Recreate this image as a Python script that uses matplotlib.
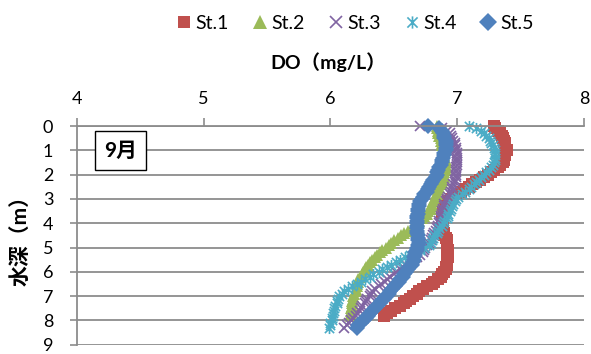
import matplotlib
matplotlib.use("Agg")
import matplotlib.pyplot as plt
from matplotlib.path import Path

plt.rcParams['font.family'] = ['Lato', 'Noto Sans CJK JP', 'DejaVu Sans']

# 水深 (m)  0.1 m ごと
depth = [0.0, 0.1, 0.2, 0.3, 0.4, 0.5, 0.6, 0.7, 0.8, 0.9,
         1.0, 1.1, 1.2, 1.3, 1.4, 1.5, 1.6, 1.7, 1.8, 1.9,
         2.0, 2.1, 2.2, 2.3, 2.4, 2.5, 2.6, 2.7, 2.8, 2.9,
         3.0, 3.1, 3.2, 3.3, 3.4, 3.5, 3.6, 3.7, 3.8, 3.9,
         4.0, 4.1, 4.2, 4.3, 4.4, 4.5, 4.6, 4.7, 4.8, 4.9,
         5.0, 5.1, 5.2, 5.3, 5.4, 5.5, 5.6, 5.7, 5.8, 5.9,
         6.0, 6.1, 6.2, 6.3, 6.4, 6.5, 6.6, 6.7, 6.8, 6.9,
         7.0, 7.1, 7.2, 7.3, 7.4, 7.5, 7.6, 7.7, 7.8, 7.9,
         8.0, 8.1, 8.2, 8.3]

# DO (mg/L)
st1 = [7.29, 7.30, 7.32, 7.34, 7.35, 7.36, 7.37, 7.38, 7.38, 7.38,
       7.39, 7.38, 7.38, 7.37, 7.37, 7.36, 7.34, 7.32, 7.29, 7.27,
       7.24, 7.21, 7.18, 7.15, 7.12, 7.09, 7.06, 7.03, 7.00, 6.97,
       6.95, 6.93, 6.91, 6.90, 6.89, 6.89, 6.88, 6.88, 6.88, 6.88,
       6.88, 6.88, 6.89, 6.89, 6.90, 6.90, 6.91, 6.92, 6.92, 6.92,
       6.92, 6.93, 6.93, 6.93, 6.93, 6.92, 6.92, 6.92, 6.91, 6.91,
       6.90, 6.88, 6.87, 6.85, 6.82, 6.80, 6.76, 6.73, 6.70, 6.68,
       6.65, 6.63, 6.60, 6.58, 6.55, 6.51, 6.48, 6.45, 6.42]
st2 = [6.84, 6.84, 6.85, 6.85, 6.86, 6.87, 6.87, 6.88, 6.88, 6.89,
       6.89, 6.90, 6.90, 6.90, 6.91, 6.91, 6.91, 6.91, 6.91, 6.90,
       6.90, 6.90, 6.89, 6.88, 6.87, 6.86, 6.85, 6.84, 6.84, 6.83,
       6.82, 6.81, 6.80, 6.80, 6.79, 6.77, 6.76, 6.74, 6.72, 6.70,
       6.68, 6.66, 6.64, 6.61, 6.58, 6.56, 6.53, 6.50, 6.48, 6.46,
       6.44, 6.41, 6.39, 6.37, 6.35, 6.33, 6.31, 6.30, 6.28, 6.27,
       6.26, 6.25, 6.23, 6.22, 6.22, 6.21, 6.21, 6.20, 6.20, 6.19,
       6.18, 6.18, 6.17, 6.17, 6.17, 6.16, 6.16, 6.16, 6.16]
st3 = [6.71, 6.88, 6.92, 6.94, 6.95, 6.96, 6.97, 6.98, 6.98, 6.99,
       6.99, 7.00, 7.00, 7.00, 7.00, 7.00, 7.00, 6.99, 6.99, 6.99,
       6.99, 6.99, 6.98, 6.98, 6.97, 6.96, 6.96, 6.95, 6.94, 6.93,
       6.92, 6.91, 6.90, 6.90, 6.89, 6.88, 6.88, 6.87, 6.87, 6.86,
       6.86, 6.85, 6.84, 6.83, 6.82, 6.81, 6.80, 6.79, 6.78, 6.76,
       6.75, 6.74, 6.73, 6.71, 6.68, 6.66, 6.63, 6.60, 6.57, 6.55,
       6.52, 6.50, 6.47, 6.45, 6.43, 6.40, 6.38, 6.35, 6.33, 6.32,
       6.31, 6.29, 6.28, 6.27, 6.25, 6.24, 6.23, 6.21, 6.20, 6.18,
       6.16, 6.15, 6.13, 6.11]
st4 = [7.09, 7.15, 7.19, 7.21, 7.23, 7.25, 7.26, 7.27, 7.28, 7.29,
       7.30, 7.30, 7.30, 7.30, 7.30, 7.29, 7.28, 7.27, 7.25, 7.23,
       7.21, 7.19, 7.17, 7.15, 7.13, 7.11, 7.09, 7.06, 7.04, 7.01,
       6.99, 6.98, 6.97, 6.96, 6.95, 6.94, 6.93, 6.93, 6.92, 6.90,
       6.89, 6.88, 6.86, 6.85, 6.84, 6.82, 6.81, 6.80, 6.79, 6.78,
       6.74, 6.71, 6.67, 6.63, 6.59, 6.55, 6.52, 6.48, 6.45, 6.41,
       6.38, 6.34, 6.31, 6.27, 6.24, 6.21, 6.17, 6.14, 6.11, 6.09,
       6.07, 6.06, 6.05, 6.05, 6.04, 6.03, 6.03, 6.02, 6.02, 6.01,
       6.01, 6.00, 6.00, 5.99]
st5 = [6.77, 6.86, 6.88, 6.89, 6.90, 6.90, 6.91, 6.91, 6.91, 6.91,
       6.91, 6.90, 6.90, 6.89, 6.88, 6.88, 6.87, 6.86, 6.85, 6.84,
       6.84, 6.83, 6.81, 6.80, 6.79, 6.78, 6.77, 6.76, 6.74, 6.73,
       6.72, 6.71, 6.70, 6.70, 6.69, 6.69, 6.69, 6.68, 6.68, 6.68,
       6.68, 6.68, 6.68, 6.68, 6.68, 6.69, 6.69, 6.69, 6.70, 6.69,
       6.68, 6.68, 6.67, 6.67, 6.66, 6.66, 6.65, 6.64, 6.62, 6.61,
       6.60, 6.58, 6.57, 6.55, 6.54, 6.52, 6.51, 6.49, 6.47, 6.46,
       6.44, 6.42, 6.40, 6.39, 6.37, 6.35, 6.33, 6.31, 6.30, 6.28,
       6.26, 6.24, 6.22, 6.21]

names = ['St.1', 'St.2', 'St.3', 'St.4', 'St.5']
x_ticks = [4, 5, 6, 7, 8]
y_ticks = [0, 1, 2, 3, 4, 5, 6, 7, 8, 9]

# excel の星マーカー (× + 縦線)
star = Path([(-1, -1), (1, 1), (-1, 1), (1, -1), (0, -1.2), (0, 1.2)],
            [Path.MOVETO, Path.LINETO, Path.MOVETO, Path.LINETO,
             Path.MOVETO, Path.LINETO])

styles = [
    dict(marker='s', color='#C0504D', ms=8.5),
    dict(marker='^', color='#9BBB59', ms=9),
    dict(marker='x', color='#8064A2', ms=7.5, mew=1.2),
    dict(marker=star, color='#4BACC6', ms=8, mew=1.2),
    dict(marker='D', color='#4F81BD', ms=8),
]

fig = plt.figure(figsize=(5.91, 3.54), dpi=100)
ax = fig.add_axes([0.130, 0.026, 0.858, 0.618])

handles = []
for vals, name, st in zip([st1, st2, st3, st4, st5], names, styles):
    h, = ax.plot(vals, depth[:len(vals)], linestyle='none', marker=st['marker'],
                 color=st['color'], markersize=st['ms'],
                 markeredgewidth=st.get('mew', 0), label=name, clip_on=False)
    handles.append(h)

ax.set_xlim(4, 8)
ax.set_ylim(9, 0)
ax.set_xticks(x_ticks)
ax.set_yticks(y_ticks)
ax.xaxis.tick_top()
ax.tick_params(axis='x', direction='out', length=6, width=1.2, color='#8c8c8c',
               labelsize=13, pad=8)
ax.tick_params(axis='y', direction='out', length=5, width=1.2, color='#8c8c8c',
               labelsize=13, pad=12)
ax.grid(axis='y', color='#8c8c8c', linewidth=1.3)
ax.set_axisbelow(True)
for s in ['bottom', 'right']:
    ax.spines[s].set_visible(False)
for s in ['top', 'left']:
    ax.spines[s].set_color('#8c8c8c')
    ax.spines[s].set_linewidth(1.3)

fig.text(0.555, 0.825, 'DO（mg/L）', ha='center', va='center',
         fontsize=14, fontweight='bold')
fig.text(0.035, 0.335, '水深（m）', ha='center', va='center', rotation=90,
         fontsize=15, fontweight='bold')
ax.text(0.086, 0.887, '9月', transform=ax.transAxes, ha='center', va='center',
        fontsize=15, fontweight='bold',
        bbox=dict(boxstyle='square,pad=0.45', fc='white', ec='black', lw=1))

fig.legend(handles=handles, loc='center', bbox_to_anchor=(0.60, 0.935),
           ncol=5, frameon=False, fontsize=14, handlelength=0.8,
           handletextpad=0.2, columnspacing=1.2, markerscale=1.1)

fig.savefig('out.png', dpi=100)
